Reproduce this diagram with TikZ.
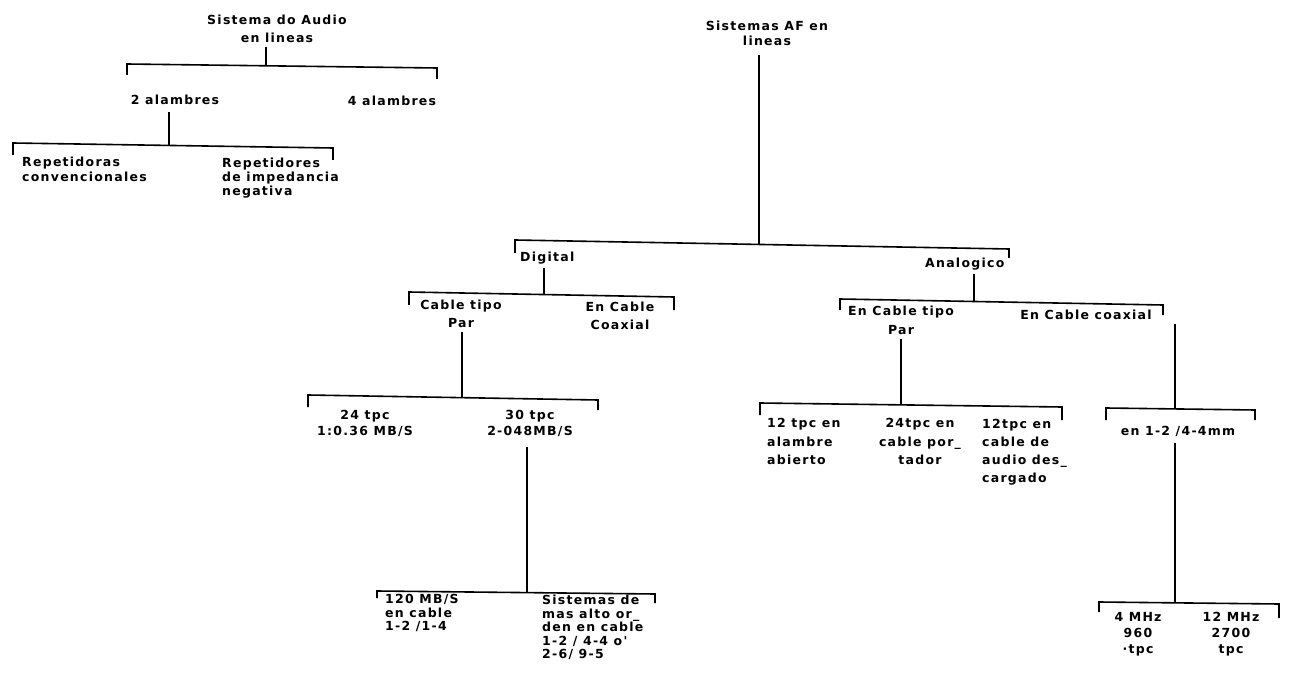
\documentclass[tikz,border=0pt]{standalone}
\usepackage{fontspec}
\newfontfamily\lettering[LetterSpace=10]{DejaVu Sans}

\begin{document}
\begin{tikzpicture}[x=1pt,y=-1pt,
    lbl/.style={inner sep=0pt,align=center,font=\lettering\bfseries\fontsize{12.5}{#1}\selectfont},
    lbl/.default=14,
    bar/.style={line width=1.6pt},
    stem/.style={bar,shorten <=4pt}]
  \useasboundingbox (0,0) rectangle (1289,692);

  % audio, left tree
  \node[lbl=18] (audio) at (277,29) {Sistema do Audio\\en lineas};
  \coordinate (audioL) at (127,64);
  \coordinate (audioR) at (437,68);
  \coordinate (audioJ) at (266,66);
  \draw[stem] (audio.south -| audioJ) -- (audioJ);
  \draw[bar] (audioL) ++(0,11) -- (audioL) -- (audioR) -- ++(0,11);
  \node[lbl] (two) at (175,100) {2 alambres};
  \node[lbl] (four) at (392,101) {4 alambres};

  \coordinate (twoL) at (13,143);
  \coordinate (twoR) at (333,148);
  \coordinate (twoJ) at (169,145);
  \draw[stem,shorten <=7pt] (two.south -| twoJ) -- (twoJ);
  \draw[bar] (twoL) ++(0,12) -- (twoL) -- (twoR) -- ++(0,12);
  \node[lbl=15,align=left,anchor=west] (rconv) at (22,169.5) {Repetidoras\\convencionales};
  \node[lbl,align=left,anchor=west] (rneg) at (222,178) {Repetidores\\de impedancia\\negativa};

  % AF, right tree
  \node[lbl=15] (af) at (767,33.5) {Sistemas AF en\\lineas};
  \coordinate (afL) at (515,240);
  \coordinate (afR) at (1009,249);
  \coordinate (afJ) at (759,244);
  \draw[stem,shorten <=9pt] (af.south -| afJ) -- (afJ);
  \draw[bar] (afL) ++(0,13) -- (afL) -- (afR) -- ++(0,9);
  \node[lbl,anchor=west] (digital) at (520,258) {Digital};
  \node[lbl,anchor=west] (analog) at (925,264) {Analogico};

  % digital
  \coordinate (digL) at (409,292);
  \coordinate (digR) at (674,297);
  \coordinate (digJ) at (544,294.5);
  \draw[stem] (digital.south -| digJ) -- (digJ);
  \draw[bar] (digL) ++(0,13) -- (digL) -- (digR) -- ++(0,13);
  \node[lbl=18] (dpar) at (461,314) {Cable tipo\\Par};
  \node[lbl=18] (dcoax) at (620,316) {En Cable\\Coaxial};

  \coordinate (parL) at (308,395);
  \coordinate (parR) at (598,400);
  \coordinate (parJ) at (462,397.5);
  \draw[stem] (dpar.south -| parJ) -- (parJ);
  \draw[bar] (parL) ++(0,12) -- (parL) -- (parR) -- ++(0,10);
  \node[lbl=16] (t24) at (365,423) {24 tpc\\1:0.36 MB/S};
  \node[lbl=16] (t30) at (530,423) {30 tpc\\2-048MB/S};

  \coordinate (hiL) at (377,591);
  \coordinate (hiR) at (655,594);
  \coordinate (hiJ) at (527,592.5);
  \draw[stem,shorten <=11pt] (t30.south -| hiJ) -- (hiJ);
  \draw[bar] (hiL) ++(0,7) -- (hiL) -- (hiR) -- ++(0,9);
  \node[lbl=13.5,align=left,anchor=west] (m120) at (385,613) {120 MB/S\\en cable\\1-2 /1-4};
  \node[lbl=13.5,align=left,anchor=west] (mhigh) at (542,627.5) {Sistemas de\\mas alto or\_\\den en cable\\1-2 / 4-4 o'\\2-6/ 9-5};

  % analogico
  \coordinate (anaL) at (840,299);
  \coordinate (anaR) at (1163,305);
  \coordinate (anaJ) at (974,301.5);
  \draw[stem] (analog.south -| anaJ) -- (anaJ);
  \draw[bar] (anaL) ++(0,11) -- (anaL) -- (anaR) -- ++(0,10);
  \node[lbl=19] (apar) at (901,320.5) {En Cable tipo\\Par};
  \node[lbl] (acoax) at (1086,315) {En Cable coaxial};

  \coordinate (tpcL) at (760,403);
  \coordinate (tpcR) at (1062,407);
  \coordinate (tpcJ) at (901,405);
  \draw[stem] (apar.south -| tpcJ) -- (tpcJ);
  \draw[bar] (tpcL) ++(0,12) -- (tpcL) -- (tpcR) -- ++(0,13);
  \node[lbl=18.5,align=left,anchor=west] (a12) at (767,441.5) {12 tpc en\\alambre\\abierto};
  \node[lbl=18.5] (a24) at (920,441.5) {24tpc en\\cable por\_\\tador};
  \node[lbl=18,align=left,anchor=west] (a12b) at (982,452) {12tpc en\\cable de\\audio des\_\\cargado};

  \coordinate (mmL) at (1106,408);
  \coordinate (mmR) at (1255,410);
  \coordinate (mmJ) at (1175,409);
  \draw[stem] (acoax.south -| mmJ) -- (mmJ);
  \draw[bar] (mmL) ++(0,12) -- (mmL) -- (mmR) -- ++(0,10);
  \node[lbl] (mm) at (1178,431) {en 1-2 /4-4mm};

  \coordinate (mhzL) at (1099,602);
  \coordinate (mhzR) at (1279,604);
  \coordinate (mhzJ) at (1175,603);
  \draw[stem,shorten <=7pt] (mm.south -| mhzJ) -- (mhzJ);
  \draw[bar] (mhzL) ++(0,10) -- (mhzL) -- (mhzR) -- ++(0,14);
  \node[lbl=16] (mhz4) at (1138,634) {4 MHz\\960\\·tpc};
  \node[lbl=16] (mhz12) at (1231,634) {12 MHz\\2700\\tpc};
\end{tikzpicture}
\end{document}
